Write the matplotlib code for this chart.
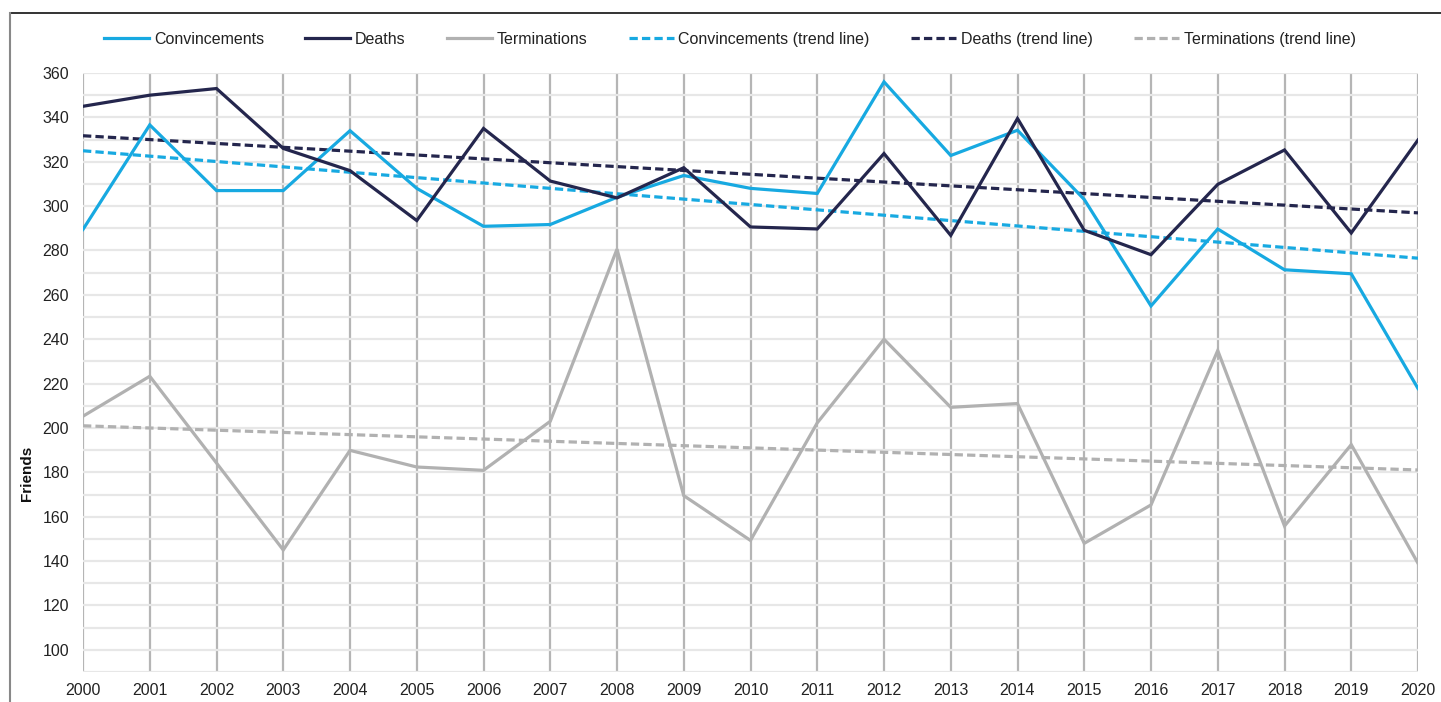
import numpy as np
import matplotlib
matplotlib.use("Agg")
import matplotlib.pyplot as plt
from matplotlib.lines import Line2D

plt.rcParams['font.family'] = ['Liberation Sans', 'DejaVu Sans']

years = list(range(2000, 2021))
convincements = [289.5, 336.6, 307, 307, 334, 308, 290.9, 291.7, 304, 313.8, 308,
                 305.7, 356, 322.8, 334.2, 303, 255, 289.7, 271.3, 269.5, 217.8]
deaths = [345, 350, 353, 326, 316, 293.5, 335, 311.3, 303.7, 317.3, 290.6,
          289.7, 323.7, 286.8, 339.5, 289.1, 278.1, 309.8, 325.3, 287.9, 329.8]
terminations = [205.3, 223.3, 184.2, 145, 189.9, 182.4, 180.9, 203, 280.6, 169.5, 149.3,
                202.3, 240, 209.3, 211, 148, 165.3, 234.9, 155.8, 192.5, 139]

series_names = ["Convincements", "Deaths", "Terminations"]
colors = ["#17a9e1", "#24264d", "#b1b1b1"]
y_ticks = list(range(100, 361, 20))

W, H = 1441, 702
fig = plt.figure(figsize=(W / 100, H / 100), dpi=100)
ax = fig.add_axes([83 / W, 1 - 672 / H, (1418 - 83) / W, (672 - 73) / H])

x = np.array(years)
data = [convincements, deaths, terminations]
lines_solid = []
lines_trend = []
for name, vals, c in zip(series_names, data, colors):
    l, = ax.plot(x, vals, color=c, lw=2.3, solid_joinstyle='miter', zorder=3, label=name)
    lines_solid.append(l)
for name, vals, c in zip(series_names, data, colors):
    coef = np.polyfit(x, np.array(vals), 1)
    t, = ax.plot(x, np.polyval(coef, x), color=c, lw=2.3, ls=(0, (2.6, 1.3)), zorder=2,
                 label=name + " (trend line)")
    lines_trend.append(t)

ax.set_xlim(2000, 2020)
ax.set_ylim(90, 360)
ax.set_xticks(years)
ax.set_yticks(y_ticks)
ax.set_yticks(list(range(90, 361, 10)), minor=True)
for s in ax.spines.values():
    s.set_visible(False)
ax.grid(axis='y', which='both', color='#e7e7e7', lw=1.6, zorder=0)
ax.grid(axis='x', which='major', color='#b5b5b5', lw=1.6, zorder=1)
ax.tick_params(axis='both', which='both', length=0, labelsize=11.5, labelcolor='#222222')
ax.tick_params(axis='y', pad=10)
ax.tick_params(axis='x', pad=8)
ax.set_axisbelow(True)

fig.text(27 / W, 1 - 473 / H, "Friends", rotation=90, ha='center', va='center',
         fontsize=11, fontweight='bold', color='#111111')

handles = lines_solid + lines_trend
leg = fig.legend(handles=handles, labels=[h.get_label() for h in handles], ncol=6,
                 loc='center', bbox_to_anchor=(730 / W, 1 - 39.5 / H), frameon=False,
                 fontsize=11.5, handlelength=2.8, handletextpad=0.3, columnspacing=2.6)
for t in leg.get_texts():
    t.set_color('#222222')

# outer frame
fig.add_artist(Line2D([10 / W, 1.0], [1 - 13 / H, 1 - 13 / H], transform=fig.transFigure,
                      color='#111111', lw=1.2))
fig.add_artist(Line2D([10 / W, 10 / W], [0, 1 - 13 / H], transform=fig.transFigure,
                      color='#888888', lw=1.5))

fig.savefig("out.png", dpi=100)
